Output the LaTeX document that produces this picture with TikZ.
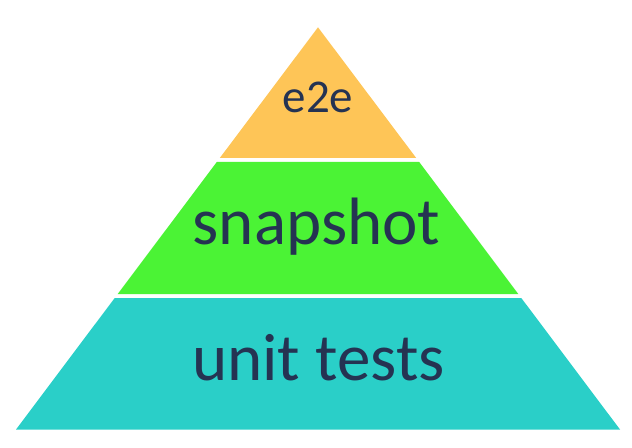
\documentclass[tikz,border=0pt]{standalone}
\usepackage{fontspec}
\setmainfont{Carlito}
\definecolor{tiertop}{RGB}{254,197,87}
\definecolor{tiermid}{RGB}{75,243,53}
\definecolor{tierbase}{RGB}{42,207,200}
\definecolor{tierink}{RGB}{37,51,82}
\begin{document}
\begin{tikzpicture}[x=1bp,y=-1bp,
    tiertext/.style={anchor=base,text=tierink,inner sep=0pt}]
    \useasboundingbox (0,0) rectangle (632,448);

    % three bands of the pyramid, white gaps between them
    \fill[tiertop] (318,27.3) -- (416.2,158) -- (219.8,158) -- cycle;
    \fill[tiermid] (216.8,162) -- (419.2,162) -- (518.3,294) -- (117.7,294) -- cycle;
    \fill[tierbase] (114.7,298) -- (521.3,298) -- (620,429.5) -- (16,429.5) -- cycle;

    \node[tiertext,font=\fontsize{47bp}{47bp}\selectfont] (e2e) at (318,113) {e2e};
    \node[tiertext,font=\fontsize{67bp}{67bp}\selectfont] (snap) at (316.5,245) {snapshot};
    \node[tiertext,font=\fontsize{67bp}{67bp}\selectfont] (unit) at (318.5,380) {unit tests};
\end{tikzpicture}
\end{document}
